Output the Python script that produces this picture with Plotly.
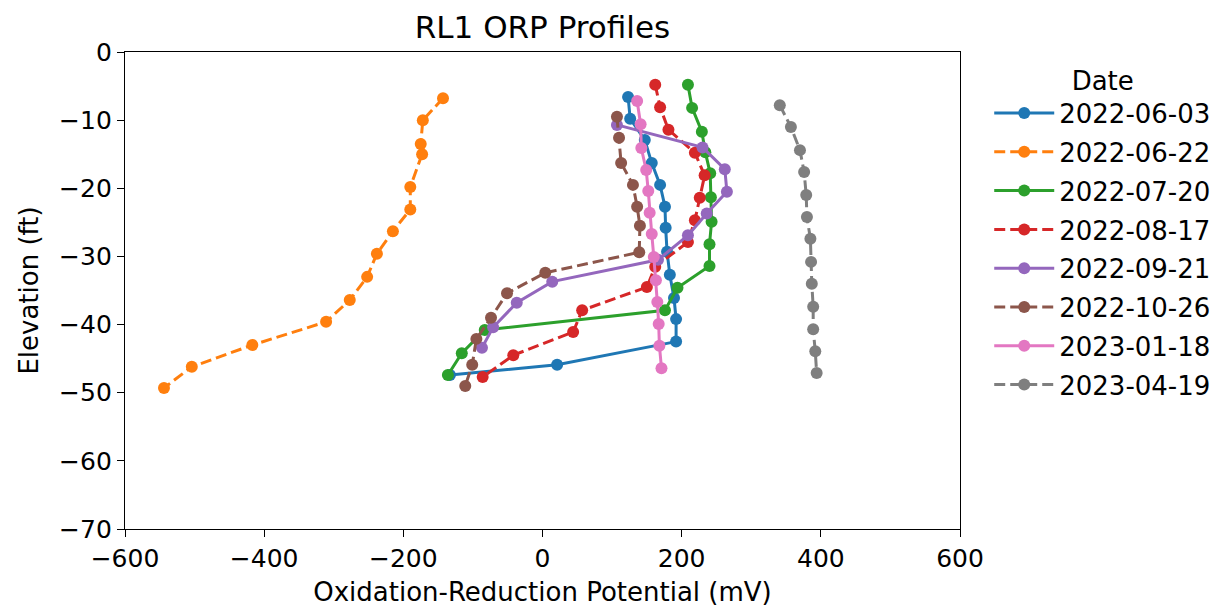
import plotly.graph_objects as go

dates = ["2022-06-03", "2022-06-22", "2022-07-20", "2022-08-17",
         "2022-09-21", "2022-10-26", "2023-01-18", "2023-04-19"]
colors = ["#1f77b4", "#ff7f0e", "#2ca02c", "#d62728",
          "#9467bd", "#8c564b", "#e377c2", "#7f7f7f"]
dashes = ["solid", "11px,5px", "solid", "11px,5px", "solid", "11px,5px", "solid", "11px,5px"]

orp_0603 = [123, 126, 147, 157, 169, 176, 177, 179, 183, 189, 192, 192, 21, -133]
elev_0603 = [-6.6, -9.8, -12.9, -16.3, -19.5, -22.7, -25.8, -29.3, -32.7, -36.1, -39.2, -42.5, -45.9, -47.4]

orp_0622 = [-143, -172, -175, -173, -190, -190, -215, -238, -252, -277, -311, -417, -504, -544]
elev_0622 = [-6.8, -10.0, -13.5, -15.0, -19.8, -23.1, -26.3, -29.6, -33.0, -36.4, -39.6, -43.0, -46.2, -49.3]

orp_0720 = [209, 215, 229, 234, 241, 242, 243, 240, 240, 194, 176, -83, -116, -136]
elev_0720 = [-4.8, -8.2, -11.7, -14.7, -17.8, -21.3, -24.9, -28.2, -31.4, -34.6, -37.9, -40.8, -44.2, -47.4]

orp_0817 = [162, 169, 181, 219, 233, 226, 219, 209, 162, 150, 57, 44, -42, -86]
elev_0817 = [-4.8, -8.1, -11.4, -14.8, -18.1, -21.4, -24.7, -27.9, -31.5, -34.5, -37.9, -41.1, -44.5, -47.7]

orp_0921 = [107, 230, 262, 265, 236, 209, 166, 14, -37, -71, -87]
elev_0921 = [-10.7, -14.0, -17.2, -20.5, -23.7, -26.9, -30.5, -33.7, -36.8, -40.4, -43.4]

orp_1026 = [107, 110, 113, 130, 136, 140, 139, 4, -51, -74, -95, -101, -111]
elev_1026 = [-9.5, -12.6, -16.3, -19.5, -22.7, -25.5, -29.4, -32.4, -35.4, -39.0, -42.1, -45.9, -49.0]

orp_0118 = [136, 141, 142, 149, 152, 154, 157, 160, 163, 165, 167, 168, 171]
elev_0118 = [-7.2, -10.6, -14.1, -17.3, -20.4, -23.6, -26.7, -30.1, -33.5, -36.7, -39.9, -43.1, -46.4]

orp_0419 = [341, 357, 370, 376, 379, 380, 385, 386, 387, 389, 389, 392, 394]
elev_0419 = [-7.8, -11.0, -14.4, -17.6, -21.0, -24.2, -27.4, -30.8, -34.0, -37.4, -40.7, -43.9, -47.1]

series = [(orp_0603, elev_0603), (orp_0622, elev_0622), (orp_0720, elev_0720),
          (orp_0817, elev_0817), (orp_0921, elev_0921), (orp_1026, elev_1026),
          (orp_0118, elev_0118), (orp_0419, elev_0419)]

x_ticks = [-600, -400, -200, 0, 200, 400, 600]
y_ticks = [0, -10, -20, -30, -40, -50, -60, -70]

fig = go.Figure()
for (xv, yv), name, c, d in zip(series, dates, colors, dashes):
    fig.add_trace(go.Scatter(
        x=xv, y=yv, mode="lines+markers", name=name, legendgroup=name,
        line=dict(color=c, width=3, dash=d),
        marker=dict(color=c, size=12),
    ))

font = "DejaVu Sans, sans-serif"
axis_common = dict(
    showline=True, linecolor="black", linewidth=1.3, mirror=True,
    ticks="outside", ticklen=7, tickwidth=1.3, tickcolor="black",
    showgrid=False, zeroline=False,
    tickfont=dict(family=font, size=25, color="black"),
)

L, T, W, H = 117, 44, 835, 477
fig.update_layout(
    width=1225, height=612,
    margin=dict(l=L, r=1225 - L - W, t=T, b=612 - T - H),
    paper_bgcolor="white", plot_bgcolor="white",
    title=dict(text="RL1 ORP Profiles", x=(L + W / 2) / 1225, xanchor="center",
               y=1 - 19 / 612, yanchor="middle",
               font=dict(family=font, size=31, color="black")),
    xaxis=dict(range=[-600, 600], tickvals=x_ticks,
               title=dict(text="Oxidation-Reduction Potential (mV)",
                          font=dict(family=font, size=26, color="black"), standoff=10),
               **axis_common),
    yaxis=dict(range=[-70, 0], tickvals=y_ticks,
               title=dict(text="Elevation (ft)",
                          font=dict(family=font, size=26, color="black"), standoff=12),
               **axis_common),
    legend=dict(title=dict(text="Date", side="top center",
                           font=dict(family=font, size=26, color="black")),
                x=1.035, xanchor="left", y=0.992, yanchor="top",
                font=dict(family=font, size=26, color="black"),
                tracegroupgap=2, itemwidth=60),
    showlegend=True,
)

fig.write_html("out.html")
